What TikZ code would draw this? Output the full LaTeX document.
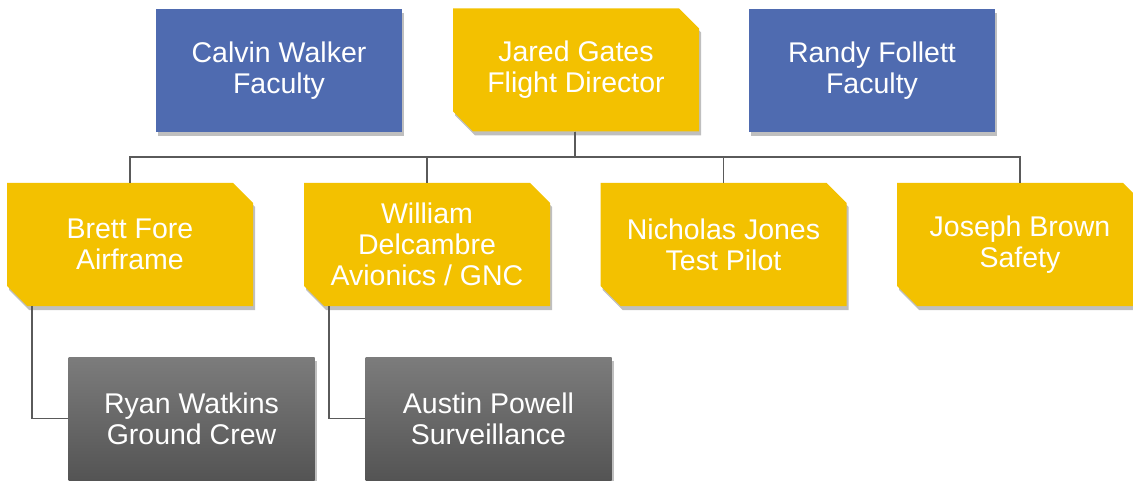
\documentclass[tikz,border=0pt]{standalone}
\usepackage{fontspec}
\setmainfont{Liberation Sans}
\usetikzlibrary{shapes.misc,shadows}
\definecolor{bluebox}{HTML}{4F6BB0}
\definecolor{yellowbox}{HTML}{F3C100}
\definecolor{graytop}{HTML}{7C7C7C}
\definecolor{graybot}{HTML}{545454}
\definecolor{linecol}{HTML}{5A5A5A}
\tikzset{
  box/.style={minimum width=246pt, minimum height=123pt, inner sep=0pt, align=center,
    text=white, font=\fontsize{28.5}{31}\selectfont,
    drop shadow={shadow xshift=2pt, shadow yshift=-4pt, opacity=0.25, fill=black}},
  bluenode/.style={box, rectangle, fill=bluebox},
  yellownode/.style={box, chamfered rectangle, chamfered rectangle corners={north east, south west},
    chamfered rectangle xsep=10pt, chamfered rectangle ysep=10pt, fill=yellowbox},
  graynode/.style={box, rectangle, top color=graytop, bottom color=graybot},
  link/.style={draw=linecol, line width=1.5pt}
}
\begin{document}
\begin{tikzpicture}[x=1pt,y=-1pt]
\useasboundingbox (0,0) rectangle (1133,481);
\clip (0,0) rectangle (1133,481);
\node[bluenode] (calvin) at (279,70.5) {Calvin Walker\\Faculty};
\node[yellownode] (jared) at (576,70) {Jared Gates\\Flight Director};
\node[bluenode] (randy) at (872,70.5) {Randy Follett\\Faculty};
\node[yellownode] (brett) at (130,244.5) {Brett Fore\\Airframe};
\node[yellownode] (william) at (427,244.5) {William\\Delcambre\\Avionics / GNC};
\node[yellownode] (nicholas) at (723.5,244.5) {Nicholas Jones\\Test Pilot};
\node[yellownode] (joseph) at (1020,244.5) {Joseph Brown\\Safety};
\node[graynode] (ryan) at (191.5,418.5) {Ryan Watkins\\Ground Crew};
\node[graynode] (austin) at (488.5,418.5) {Austin Powell\\Surveillance};
\coordinate (bus) at (575,157);
\foreach \c in {brett,william,nicholas,joseph}{
  \draw[link] (jared.south -| bus) -- (bus) -| (\c.north);
}
\draw[link] ([xshift=-98pt]brett.south) |- (ryan.west);
\draw[link] ([xshift=-98pt]william.south) |- (austin.west);
\end{tikzpicture}
\end{document}
